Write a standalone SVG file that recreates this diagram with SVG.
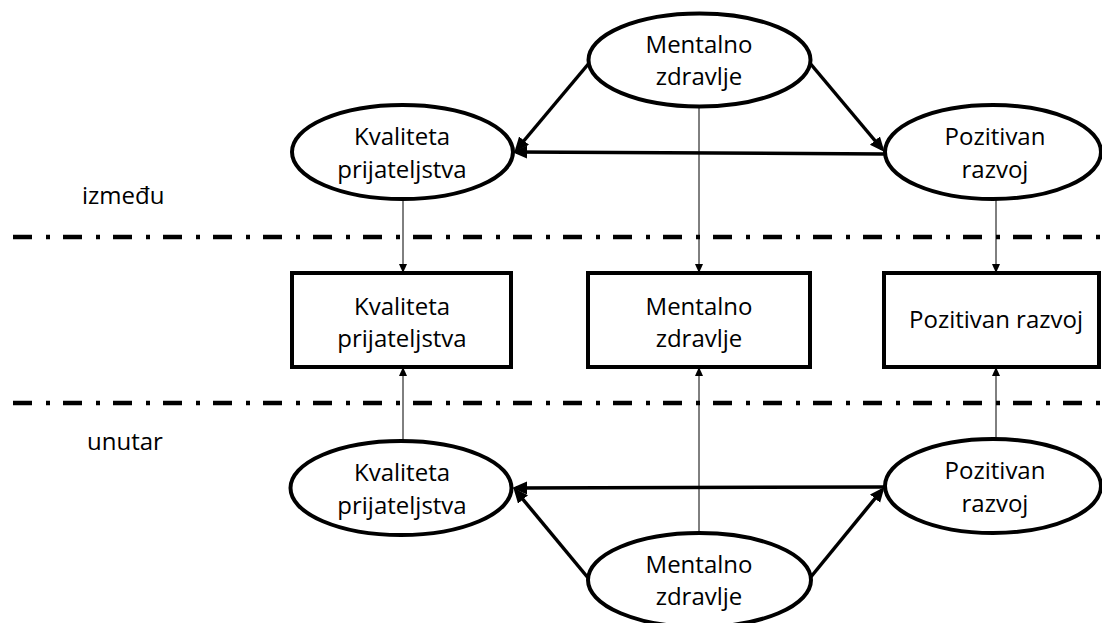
<svg xmlns="http://www.w3.org/2000/svg" width="1102" height="623" viewBox="0 0 1102 623">
<style>
.node{fill:#fff;stroke:#000;stroke-width:4}
.t{font-family:"Open Sans","Liberation Sans",sans-serif;font-size:24px;fill:#000;text-anchor:middle}
.lbl{font-family:"Open Sans","Liberation Sans",sans-serif;font-size:24px;fill:#000}
.thick{stroke:#000;stroke-width:3.5;fill:none;marker-end:url(#ah)}
.thin{stroke:#000;stroke-width:1;fill:none;marker-end:url(#as)}
.sep{stroke:#000;stroke-width:4.5;stroke-dasharray:19 14 4 13;fill:none}
</style>
<defs>
<marker id="ah" markerUnits="userSpaceOnUse" markerWidth="16" markerHeight="14" refX="11" refY="6.5" orient="auto">
<path d="M0,0 L15,6.5 L0,13 z" fill="#000"/>
</marker>
<marker id="as" markerUnits="userSpaceOnUse" markerWidth="10" markerHeight="10" refX="8" refY="4" orient="auto">
<path d="M0,0 L9,4 L0,8 z" fill="#000"/>
</marker>
</defs>
<g id="separators">
<line class="sep" x1="13" y1="237" x2="1102" y2="237"/>
<line class="sep" x1="13" y1="403" x2="1102" y2="403"/>
</g>
<g id="labels">
<text class="lbl" x="82" y="204">između</text>
<text class="lbl" x="87" y="450">unutar</text>
</g>
<g id="connectors">
<line class="thick" x1="590" y1="62" x2="517" y2="149"/>
<line class="thick" x1="809" y1="62" x2="882" y2="149"/>
<line class="thick" x1="885" y1="154" x2="516" y2="152"/>
<line class="thin" x1="403" y1="199" x2="403" y2="272"/>
<line class="thin" x1="699" y1="107" x2="699" y2="272"/>
<line class="thin" x1="996" y1="199" x2="996" y2="272"/>
<line class="thin" x1="403" y1="441" x2="403" y2="368"/>
<line class="thin" x1="699" y1="533" x2="699" y2="368"/>
<line class="thin" x1="996" y1="439" x2="996" y2="368"/>
<line class="thick" x1="885" y1="487" x2="516" y2="488"/>
<line class="thick" x1="589" y1="579" x2="516" y2="491"/>
<line class="thick" x1="810" y1="578" x2="882" y2="490"/>
</g>
<g id="mz-top">
<ellipse class="node" cx="699.5" cy="60" rx="111" ry="46.5"/>
<text class="t" x="699" y="53">Mentalno</text>
<text class="t" x="699" y="85">zdravlje</text>
</g>
<g id="kp-top">
<ellipse class="node" cx="402.5" cy="152" rx="110.5" ry="47"/>
<text class="t" x="402" y="145">Kvaliteta</text>
<text class="t" x="402" y="178">prijateljstva</text>
</g>
<g id="pr-top">
<ellipse class="node" cx="993" cy="152" rx="108" ry="47"/>
<text class="t" x="995" y="145">Pozitivan</text>
<text class="t" x="995" y="178">razvoj</text>
</g>
<g id="kp-mid">
<rect class="node" x="292" y="273" width="219" height="94"/>
<text class="t" x="402" y="315">Kvaliteta</text>
<text class="t" x="402" y="347">prijateljstva</text>
</g>
<g id="mz-mid">
<rect class="node" x="588" y="273" width="222" height="94"/>
<text class="t" x="699" y="315">Mentalno</text>
<text class="t" x="699" y="347">zdravlje</text>
</g>
<g id="pr-mid">
<rect class="node" x="884" y="273" width="215" height="94"/>
<text class="t" x="996" y="328">Pozitivan razvoj</text>
</g>
<g id="kp-bot">
<ellipse class="node" cx="401" cy="488" rx="110.5" ry="47"/>
<text class="t" x="402" y="481">Kvaliteta</text>
<text class="t" x="402" y="514">prijateljstva</text>
</g>
<g id="pr-bot">
<ellipse class="node" cx="993" cy="486" rx="108" ry="47"/>
<text class="t" x="995" y="479">Pozitivan</text>
<text class="t" x="995" y="512">razvoj</text>
</g>
<g id="mz-bot">
<ellipse class="node" cx="699.5" cy="580" rx="111.5" ry="47"/>
<text class="t" x="699" y="573">Mentalno</text>
<text class="t" x="699" y="605">zdravlje</text>
</g>
</svg>
